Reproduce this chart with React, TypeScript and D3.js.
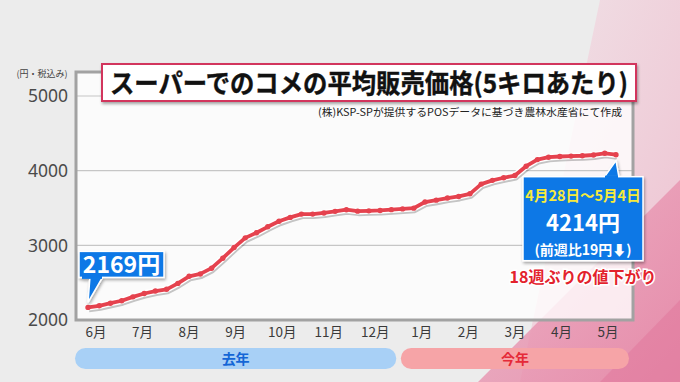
import React from 'react';
import * as d3 from 'd3';

const months = ['6月', '7月', '8月', '9月', '10月', '11月', '12月', '1月', '2月', '3月', '4月', '5月'];
const yTicks = [2000, 3000, 4000, 5000];
const gridTicks = [3000, 4000, 5000];
const prices = [
  2169, 2190, 2225, 2258, 2310, 2355, 2388, 2411, 2490, 2585, 2617, 2694,
  2828, 2970, 3100, 3168, 3248, 3322, 3374, 3418, 3418, 3434, 3455, 3477,
  3458, 3462, 3467, 3478, 3488, 3498, 3580, 3605, 3633, 3655, 3690, 3820,
  3870, 3905, 3935, 4060, 4148, 4180, 4190, 4195, 4200, 4210, 4233, 4214,
];
const periods = [
  { label: '去年', from: '6月', to: '12月', fill: '#a8d0f6', color: '#1466d6' },
  { label: '今年', from: '1月', to: '5月', fill: '#f6a4a7', color: '#e52a38' },
];

const W = 680;
const H = 382;
const frame = { x0: 76, x1: 633, y0: 72, y1: 320 };
const FONT = '"Noto Sans CJK JP", "Noto Sans", sans-serif';

export default function App() {
  const x = d3.scaleLinear().domain([0, prices.length - 1]).range([88, 616]);
  const y = d3.scaleLinear().domain([2000, 5000]).range([320, 96]);
  const mx = d3.scalePoint<string>().domain(months).range([96, 608]);
  const line = d3.line<number>().x((_, i) => x(i)).y((d) => y(d));
  const path = line(prices) || '';

  const a0x = x(0);
  const a0y = y(prices[0]);
  const aNx = x(prices.length - 1);
  const aNy = y(prices[prices.length - 1]);
  const last = prices[prices.length - 1];
  const diff = prices[prices.length - 2] - last;

  return (
    <svg
      width={W}
      height={H}
      style={{ position: 'fixed', left: 0, top: 0, fontFamily: FONT }}
    >
      <defs>
        <linearGradient id="pk1" x1="0" y1="0" x2="1" y2="1">
          <stop offset="0" stopColor="#f1e0e6" />
          <stop offset="1" stopColor="#efb6c9" />
        </linearGradient>
        <linearGradient id="pk2" x1="0" y1="0" x2="1" y2="1">
          <stop offset="0" stopColor="#eda8bf" />
          <stop offset="1" stopColor="#e37ea0" />
        </linearGradient>
        <filter id="sh" x="-10%" y="-10%" width="130%" height="140%">
          <feDropShadow dx="1" dy="2" stdDeviation="1.5" floodColor="#000" floodOpacity="0.35" />
        </filter>
      </defs>

      {/* background */}
      <rect x={0} y={0} width={W} height={H} fill="#ececec" />
      <polygon points="600,0 680,0 680,382 520,382" fill="url(#pk1)" opacity={0.8} />
      <polygon points="478,382 680,180 680,382" fill="url(#pk2)" opacity={0.8} />
      <polygon points="600,382 680,300 680,382" fill="#e07399" opacity={0.45} />

      {/* plot frame */}
      <rect
        x={frame.x0}
        y={frame.y0}
        width={frame.x1 - frame.x0}
        height={frame.y1 - frame.y0}
        fill="#ffffff"
        fillOpacity={0.8}
      />
      {gridTicks.map((t) => (
        <line key={t} x1={frame.x0} x2={frame.x1} y1={y(t)} y2={y(t)} stroke="#c6c6c6" strokeWidth={1.2} />
      ))}
      <rect
        x={frame.x0}
        y={frame.y0}
        width={frame.x1 - frame.x0}
        height={frame.y1 - frame.y0}
        fill="none"
        stroke="#a2a2a2"
        strokeWidth={3}
      />

      {/* y axis labels */}
      {yTicks.map((t) => (
        <text key={t} x={68} y={y(t)} dy="0.36em" textAnchor="end" fontSize={17.5} fill="#4a4a4a" fontFamily='"Noto Sans", sans-serif'>
          {t}
        </text>
      ))}
      <text x={42} y={77} textAnchor="middle" fontSize={9} fill="#444">(円・税込み)</text>

      {/* title */}
      <rect x={102} y={64} width={534} height={37} fill="#fff" stroke="#d2345d" strokeWidth={2} filter="url(#sh)" />
      <text x={110} y={93} fontSize={26} fontWeight={700} fill="#111" stroke="#111" strokeWidth={0.4} textLength={518} lengthAdjust="spacingAndGlyphs">
        スーパーでのコメの平均販売価格(5キロあたり)
      </text>
      <text x={622} y={116} textAnchor="end" fontSize={10.5} fill="#222" textLength={304} lengthAdjust="spacingAndGlyphs">
        (株)KSP-SPが提供するPOSデータに基づき農林水産省にて作成
      </text>

      {/* line */}
      <path d={path} fill="none" stroke="#000" strokeOpacity={0.22} strokeWidth={5} transform="translate(1,2.5)" strokeLinejoin="round" />
      <path d={path} fill="none" stroke="#fff" strokeWidth={6.5} strokeLinejoin="round" strokeLinecap="round" />
      <path d={path} fill="none" stroke="#e5424e" strokeWidth={3.8} strokeLinejoin="round" strokeLinecap="round" />
      {prices.map((p, i) => (
        <circle key={i} cx={x(i)} cy={y(p)} r={2.7} fill="#e5424e" />
      ))}

      {/* month labels */}
      {months.map((m) => (
        <text key={m} x={mx(m)} y={337} textAnchor="middle" fontSize={13.5} fill="#3a3a3a">
          {m}
        </text>
      ))}

      {/* period bars */}
      {periods.map((p) => {
        const x0 = (mx(p.from) as number) - 21;
        const x1 = (mx(p.to) as number) + 21;
        return (
          <g key={p.label}>
            <rect x={x0} y={348} width={x1 - x0} height={21} rx={10.5} fill={p.fill} />
            <text x={(x0 + x1) / 2} y={364} textAnchor="middle" fontSize={14} fontWeight={700} fill={p.color}>
              {p.label}
            </text>
          </g>
        );
      })}

      {/* callout: first value */}
      <g filter="url(#sh)">
        <polygon
          points={`${a0x},${a0y - 5} ${a0x + 2},${a0y - 31} ${a0x + 15},${a0y - 31}`}
          fill="#0a78e6"
          stroke="#fff"
          strokeWidth={1.5}
        />
        <rect x={a0x - 9} y={a0y - 56} width={85} height={26} fill="#0a78e6" stroke="#fff" strokeWidth={1.5} />
        <rect x={a0x - 6} y={a0y - 31.5} width={20} height={3} fill="#0a78e6" />
      </g>
      <text x={a0x + 33.5} y={a0y - 34.5} textAnchor="middle" fontSize={23} fontWeight={700} fill="#fff">
        {prices[0]}円
      </text>

      {/* callout: last value */}
      <g filter="url(#sh)">
        <polygon
          points={`${aNx},${aNy + 6} ${aNx - 12},${aNy + 23} ${aNx + 3},${aNy + 23}`}
          fill="#0a78e6"
          stroke="#fff"
          strokeWidth={1.5}
        />
        <rect x={aNx - 93} y={aNy + 22} width={120} height={84} fill="#0a78e6" stroke="#fff" strokeWidth={1.5} />
        <rect x={aNx - 11} y={aNy + 21} width={13} height={3} fill="#0a78e6" />
      </g>
      <text x={aNx - 33} y={aNy + 46} textAnchor="middle" fontSize={14.5} fontWeight={700} fill="#f7ea3a">
        4月28日～5月4日
      </text>
      <text x={aNx - 33} y={aNy + 76.5} textAnchor="middle" fontSize={22} fontWeight={700} fill="#fff">
        {last}円
      </text>
      <text x={aNx - 33} y={aNy + 100} textAnchor="middle" fontSize={14} fontWeight={700} fill="#fff">
        (前週比{diff}円⬇)
      </text>
      <text
        x={aNx - 33}
        y={aNy + 128}
        textAnchor="middle"
        fontSize={16}
        fontWeight={700}
        fill="#e3222c"
        stroke="#fff"
        strokeWidth={3}
        paintOrder="stroke"
      >
        18週ぶりの値下がり
      </text>
    </svg>
  );
}
